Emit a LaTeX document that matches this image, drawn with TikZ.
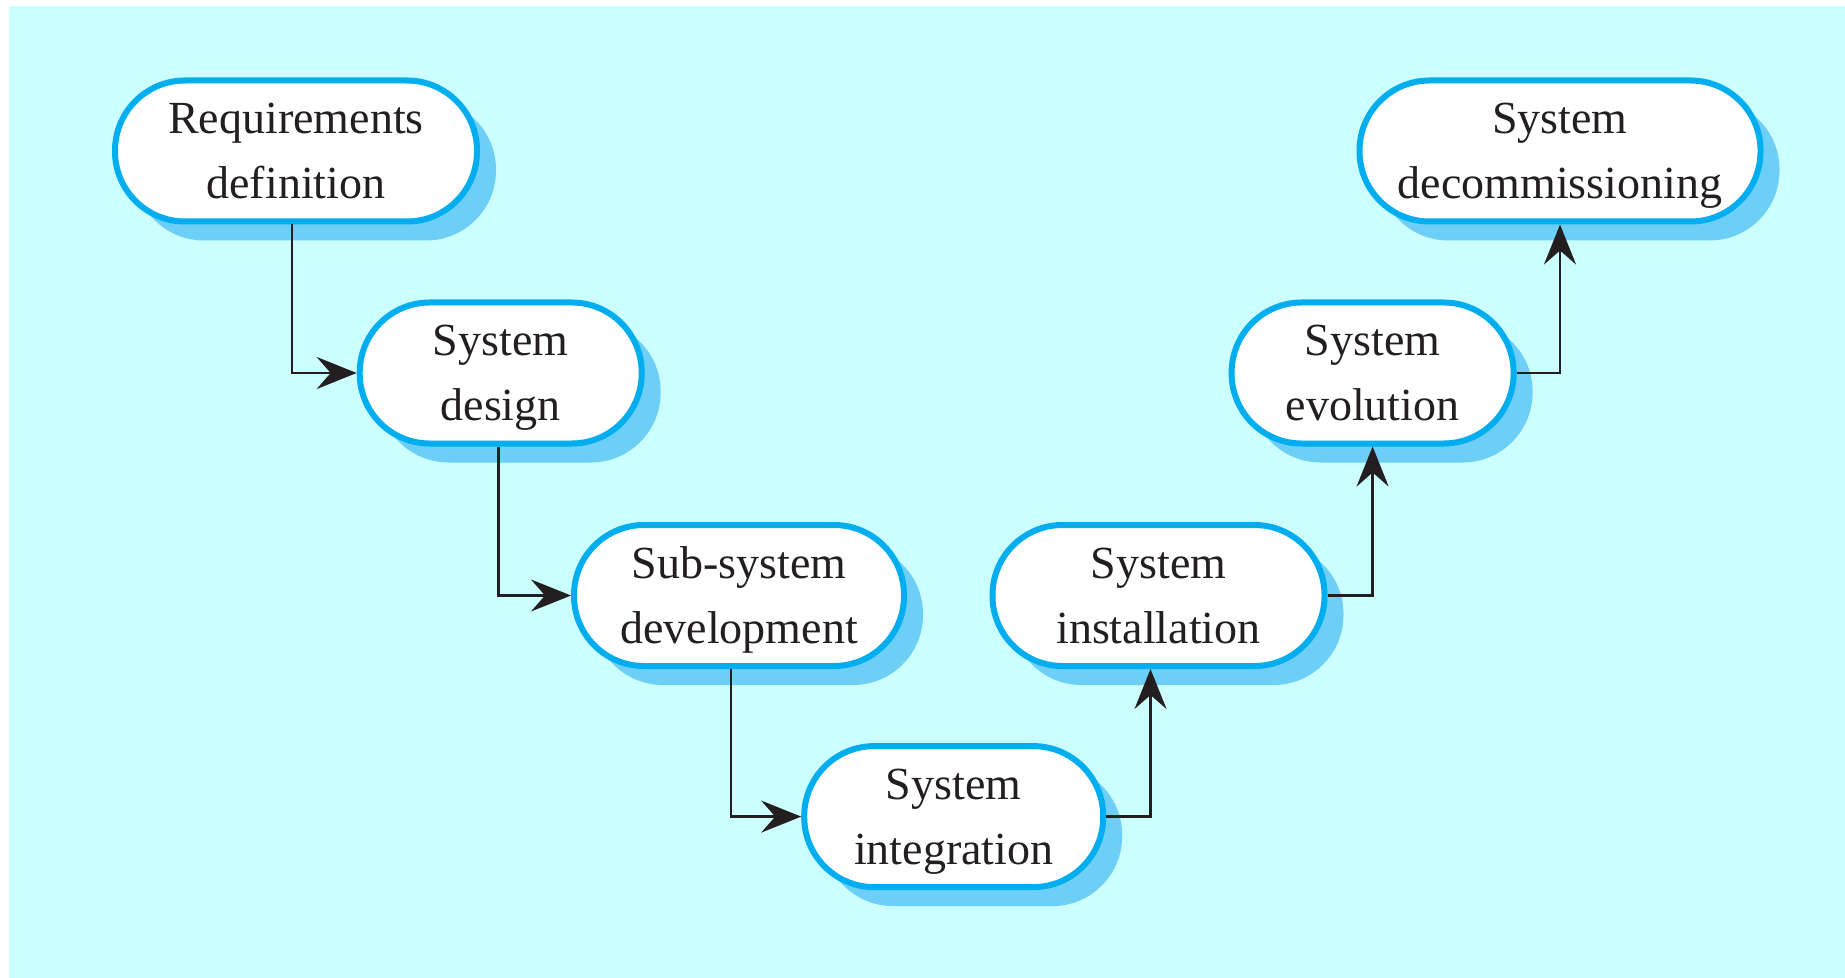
\documentclass[tikz,border=0pt]{standalone}
\usepackage{fontspec}
\setmainfont{Liberation Serif}
\usepackage{xcolor}
\usepackage{tikz}
\usetikzlibrary{arrows.meta}
\usetikzlibrary{shadows}

\definecolor{bgcyan}{HTML}{CCFFFF}
\definecolor{edgeblue}{HTML}{00AEEF}
\definecolor{shadeblue}{HTML}{6DCFF6}
\definecolor{inkgrey}{HTML}{231F20}

\tikzset{
  phase/.style={rectangle, rounded corners=35pt, draw=edgeblue, fill=white,
    line width=3pt, minimum height=70.5pt, align=center, text=inkgrey,
    font=\fontsize{23pt}{32.5pt}\selectfont, text depth=0pt,
    general shadow={fill=shadeblue, shadow xshift=9.5pt, shadow yshift=-9.5pt}},
  flow/.style={-{Stealth[length=20pt,width=16pt,inset=7pt]}, draw=inkgrey, line width=1.25pt}
}

\begin{document}
\begin{tikzpicture}[x=0.5pt, y=-0.5pt]
\useasboundingbox (0,0) rectangle (1845,978);
\fill [bgcyan] (9,6) rectangle (1845,978);
\node [phase, minimum width=181pt] (Req) at (296, 151) {Requirements\\definition};
\node [phase, minimum width=141pt] (Des) at (500.7, 373) {System\\design};
\node [phase, minimum width=165pt] (Sub) at (739, 595.5) {Sub-system\\development};
\node [phase, minimum width=149.5pt] (Int) at (953.7, 816.6) {System\\integration};
\node [phase, minimum width=166pt] (Ins) at (1158.5, 595.5) {System\\installation};
\node [phase, minimum width=141pt] (Evo) at (1372.6, 373) {System\\evolution};
\node [phase, minimum width=200.5pt] (Dec) at (1560, 151) {System\\decommissioning};
\draw [flow] ([xshift=-2pt]Req.south) |- (Des.west);
\draw [flow] ([xshift=-1pt]Des.south) |- (Sub.west);
\draw [flow] ([xshift=-4pt]Sub.south) |- (Int.west);
\draw [flow] (Int.east) -| ([xshift=-4pt]Ins.south);
\draw [flow] (Ins.east) -| (Evo.south);
\draw [flow] (Evo.east) -| (Dec.south);
\end{tikzpicture}
\end{document}
